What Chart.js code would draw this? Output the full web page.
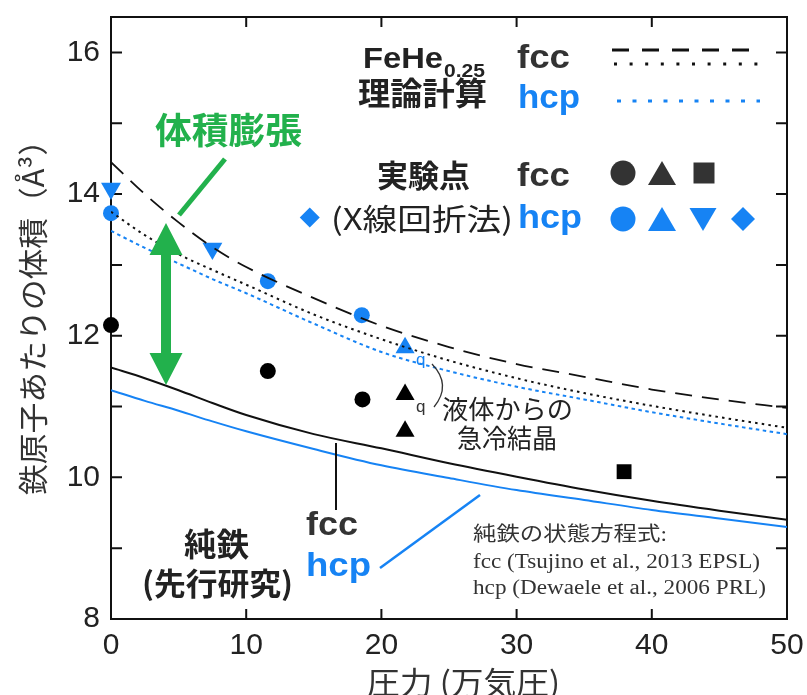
<!DOCTYPE html>
<html><head><meta charset="utf-8">
<script src="https://cdn.jsdelivr.net/npm/chart.js@4.4.1/dist/chart.umd.min.js"></script>
<style>html,body{margin:0;padding:0;background:#fff}#wrap{width:807px;height:695px}</style>
</head><body><div id="wrap"><canvas id="c" width="807" height="695"></canvas></div>
<script>
// ---- data (pressure in 万気圧, volume in Å^3 per Fe atom) ----
const pressureGrid   = [0, 2.5, 5, 7.5, 10, 15, 20, 25, 30, 35, 40, 45, 50];
const feHeFccUpperV  = [14.45, 14.00, 13.60, 13.25, 12.97, 12.53, 12.14, 11.84, 11.60, 11.42, 11.24, 11.10, 10.98];
const feHeFccLowerV  = [13.75, 13.42, 13.15, 12.93, 12.72, 12.30, 11.95, 11.65, 11.40, 11.19, 11.01, 10.85, 10.70];
const feHeHcpV       = [13.48, 13.24, 13.02, 12.80, 12.60, 12.17, 11.77, 11.50, 11.28, 11.10, 10.92, 10.76, 10.61];
const pureFeFccV     = [11.55, 11.40, 11.23, 11.05, 10.88, 10.61, 10.41, 10.20, 10.01, 9.83, 9.67, 9.53, 9.40];
const pureFeHcpV     = [11.23, 11.08, 10.94, 10.79, 10.65, 10.40, 10.17, 9.99, 9.82, 9.68, 9.54, 9.42, 9.30];

const expFccCircleP   = [0, 11.6, 18.6];
const expFccCircleV   = [12.15, 11.50, 11.10];
const expFccTriangleP = [21.75, 21.75];
const expFccTriangleV = [11.17, 10.65];
const expFccSquareP   = [37.95];
const expFccSquareV   = [10.08];
const expHcpCircleP   = [0, 11.6, 18.55];
const expHcpCircleV   = [13.73, 12.77, 12.29];
const expHcpTriangleP = [21.75];
const expHcpTriangleV = [11.83];
const expHcpDownTriP  = [0, 7.5];
const expHcpDownTriV  = [14.08, 13.23];
const expHcpDiamondP  = [14.7];
const expHcpDiamondV  = [13.67];

const xTickLabels = [0, 10, 20, 30, 40, 50];
const yTickLabels = [8, 10, 12, 14, 16];
const yMinorTicks = [8, 9, 10, 11, 12, 13, 14, 15, 16];
const xMinorTicks = [10, 20, 30, 40];
const xAxisTitle = '圧力 (万気圧)';
const yAxisTitle = '鉄原子あたりの体積（Å³）';

// ---- styling ----
const BLUE = '#1683f4', BLACK = '#111', GREEN = '#22b14c', DARK = '#333';
const SANS = '"Liberation Sans", Arial, sans-serif';
const CJK = '"Noto Sans CJK JP", sans-serif';
const SERIF = '"Liberation Serif", "Noto Sans CJK JP", serif';

const pts = (xs, ys) => xs.map((x, i) => ({x, y: ys[i]}));
const curve = (ys, color, dash, width, label) => ({
  type: 'line', label, data: pts(pressureGrid, ys), borderColor: color, borderWidth: width,
  borderDash: dash, pointRadius: 0, fill: false, cubicInterpolationMode: 'monotone', showLine: true
});
const marks = (xs, ys, color, style, radius, rotation, label) => ({
  type: 'scatter', label, data: pts(xs, ys), backgroundColor: color, borderColor: color, borderWidth: 0,
  pointStyle: style, pointRadius: radius, pointRotation: rotation || 0, clip: false
});

function txt(ctx, s, x, y, font, color, width) {
  ctx.save(); ctx.font = font; ctx.fillStyle = color; ctx.textAlign = 'left'; ctx.textBaseline = 'alphabetic';
  const w = ctx.measureText(s).width;
  ctx.translate(x, y);
  if (width) ctx.scale(width / w, 1);
  ctx.fillText(s, 0, 0);
  ctx.restore();
}
function seg(ctx, x1, y1, x2, y2, color, w, dash) {
  ctx.save(); ctx.strokeStyle = color; ctx.lineWidth = w; ctx.setLineDash(dash || []);
  ctx.beginPath(); ctx.moveTo(x1, y1); ctx.lineTo(x2, y2); ctx.stroke(); ctx.restore();
}
function poly(ctx, p, color) {
  ctx.save(); ctx.fillStyle = color; ctx.beginPath(); ctx.moveTo(p[0][0], p[0][1]);
  for (let i = 1; i < p.length; i++) ctx.lineTo(p[i][0], p[i][1]);
  ctx.closePath(); ctx.fill(); ctx.restore();
}

const framePlugin = {
  id: 'frame',
  beforeDatasetsDraw(chart) {
    const {ctx, chartArea: a, scales: {x, y}} = chart;
    ctx.save(); ctx.strokeStyle = BLACK; ctx.lineWidth = 2;
    ctx.strokeRect(a.left, a.top, a.right - a.left, a.bottom - a.top);
    ctx.beginPath();
    yMinorTicks.forEach(v => { const py = y.getPixelForValue(v);
      ctx.moveTo(a.left, py); ctx.lineTo(a.left + 11, py); ctx.moveTo(a.right, py); ctx.lineTo(a.right - 11, py); });
    xMinorTicks.forEach(v => { const px = x.getPixelForValue(v);
      ctx.moveTo(px, a.bottom); ctx.lineTo(px, a.bottom - 10); ctx.moveTo(px, a.top); ctx.lineTo(px, a.top + 10); });
    ctx.stroke(); ctx.restore();
    // axis titles
    txt(ctx, xAxisTitle, 367, 694, `31px ${CJK}`, '#333', 193);
    ctx.save(); ctx.translate(44, 495); ctx.rotate(-Math.PI / 2);
    txt(ctx, yAxisTitle, 0, 0, `30px ${CJK}`, '#333', 370);
    ctx.restore();
  },
  afterDatasetsDraw(chart) {
    const ctx = chart.ctx;
    // theory legend
    txt(ctx, 'FeHe', 363, 68, `bold 30px ${SANS}`, '#222', 80);
    txt(ctx, '0.25', 444, 77, `bold 19px ${SANS}`, '#222', 41);
    txt(ctx, 'fcc', 517, 68, `bold 33px ${SANS}`, DARK, 53);
    txt(ctx, '理論計算', 358, 105, `bold 32px ${CJK}`, '#222', 129);
    txt(ctx, 'hcp', 518, 108, `bold 33px ${SANS}`, BLUE, 62);
    seg(ctx, 612, 50, 758, 50, BLACK, 3, [17, 13]);
    seg(ctx, 614, 64, 760, 64, BLACK, 3, [3, 12.6]);
    seg(ctx, 617, 101, 760, 101, BLUE, 3, [4, 11.5]);
    // experiment legend
    txt(ctx, '実験点', 377, 187, `bold 31px ${CJK}`, '#222', 93);
    txt(ctx, 'fcc', 517, 186, `bold 33px ${SANS}`, DARK, 53);
    txt(ctx, '(X線回折法)', 331, 230, `30px ${CJK}`, '#222', 182);
    txt(ctx, 'hcp', 518, 228, `bold 33px ${SANS}`, BLUE, 64);
    ctx.save(); ctx.fillStyle = DARK; ctx.beginPath(); ctx.arc(623, 173, 12.5, 0, Math.PI * 2); ctx.fill(); ctx.restore();
    poly(ctx, [[662, 161], [648, 185], [676, 185]], DARK);
    poly(ctx, [[693.5, 162.5], [714.5, 162.5], [714.5, 183.5], [693.5, 183.5]], DARK);
    ctx.save(); ctx.fillStyle = BLUE; ctx.beginPath(); ctx.arc(623, 219, 12.5, 0, Math.PI * 2); ctx.fill(); ctx.restore();
    poly(ctx, [[662, 207], [648, 231], [676, 231]], BLUE);
    poly(ctx, [[689.5, 208], [716.5, 208], [703, 231]], BLUE);
    poly(ctx, [[743, 207], [755, 219], [743, 231], [731, 219]], BLUE);
    // volume expansion
    txt(ctx, '体積膨張', 155, 144, `bold 36px ${CJK}`, GREEN, 147);
    seg(ctx, 179, 215, 225, 159, GREEN, 5);
    poly(ctx, [[166, 223], [182.5, 255], [171, 255], [171, 353], [182.5, 353], [166, 385],
               [149.5, 353], [161, 353], [161, 255], [149.5, 255]], GREEN);
    // quench annotation
    txt(ctx, 'q', 416, 365, `17px ${SANS}`, BLUE);
    txt(ctx, 'q', 416, 412, `17px ${SANS}`, DARK);
    ctx.save(); ctx.strokeStyle = DARK; ctx.lineWidth = 1.3; ctx.beginPath();
    ctx.moveTo(432, 364); ctx.quadraticCurveTo(452, 385, 434, 407); ctx.stroke(); ctx.restore();
    txt(ctx, '液体からの', 442, 419, `26px ${CJK}`, '#222', 131);
    txt(ctx, '急冷結晶', 457, 448, `26px ${CJK}`, '#222', 100);
    // pure iron labels
    seg(ctx, 336, 443, 336, 510, BLACK, 2);
    seg(ctx, 380, 568, 480, 495, BLUE, 2.5);
    txt(ctx, 'fcc', 306, 535, `bold 33px ${SANS}`, DARK, 52);
    txt(ctx, 'hcp', 306, 576, `bold 33px ${SANS}`, BLUE, 65);
    txt(ctx, '純鉄', 184, 556, `bold 32px ${CJK}`, '#222', 65);
    txt(ctx, '(先行研究)', 142, 595, `bold 31px ${CJK}`, '#222', 151);
    txt(ctx, '純鉄の状態方程式:', 473, 541, `20px ${SERIF}`, '#333', 194);
    txt(ctx, 'fcc (Tsujino et al., 2013 EPSL)', 473, 568, `20px ${SERIF}`, '#333', 287);
    txt(ctx, 'hcp (Dewaele et al., 2006 PRL)', 473, 594, `20px ${SERIF}`, '#333', 293);
  }
};

new Chart(document.getElementById('c'), {
  type: 'scatter',
  data: {
    datasets: [
      curve(feHeFccUpperV, BLACK, [17, 10], 1.8, 'FeHe0.25 fcc (upper)'),
      curve(feHeFccLowerV, BLACK, [2.5, 4.2], 2, 'FeHe0.25 fcc (lower)'),
      curve(feHeHcpV, BLUE, [3.5, 3.5], 2, 'FeHe0.25 hcp'),
      curve(pureFeFccV, BLACK, [], 2, 'Fe fcc'),
      curve(pureFeHcpV, BLUE, [], 2, 'Fe hcp'),
      marks(expFccCircleP, expFccCircleV, '#000', 'circle', 8, 0, 'fcc circle'),
      marks(expFccTriangleP, expFccTriangleV, '#000', 'triangle', 11, 0, 'fcc triangle'),
      marks(expFccSquareP, expFccSquareV, '#000', 'rect', 10.5, 0, 'fcc square'),
      marks(expHcpCircleP, expHcpCircleV, BLUE, 'circle', 8, 0, 'hcp circle'),
      marks(expHcpTriangleP, expHcpTriangleV, BLUE, 'triangle', 11, 0, 'hcp triangle'),
      marks(expHcpDownTriP, expHcpDownTriV, BLUE, 'triangle', 11.5, 180, 'hcp down triangle'),
      marks(expHcpDiamondP, expHcpDiamondV, BLUE, 'rectRot', 10, 0, 'hcp diamond')
    ]
  },
  options: {
    responsive: false, animation: false, devicePixelRatio: 1, events: [],
    layout: {padding: {left: 0, right: 20, top: 17, bottom: 0}},
    plugins: {legend: {display: false}, tooltip: {enabled: false}},
    scales: {
      x: {
        type: 'linear', min: 0, max: 50,
        afterBuildTicks: s => { s.ticks = xTickLabels.map(v => ({value: v})); },
        afterFit: s => { s.height = 76; s.paddingLeft = 0; s.paddingRight = 0; },
        grid: {display: false, drawTicks: false}, border: {display: false},
        ticks: {padding: 9, color: '#222', font: {family: SANS, size: 30}}
      },
      y: {
        type: 'linear', min: 8, max: 16.5,
        afterBuildTicks: s => { s.ticks = yTickLabels.map(v => ({value: v})); },
        afterFit: s => { s.width = 111; s.paddingTop = 0; s.paddingBottom = 0; },
        grid: {display: false, drawTicks: false}, border: {display: false},
        ticks: {padding: 11, color: '#222', font: {family: SANS, size: 30}}
      }
    }
  },
  plugins: [framePlugin]
});
</script></body></html>
